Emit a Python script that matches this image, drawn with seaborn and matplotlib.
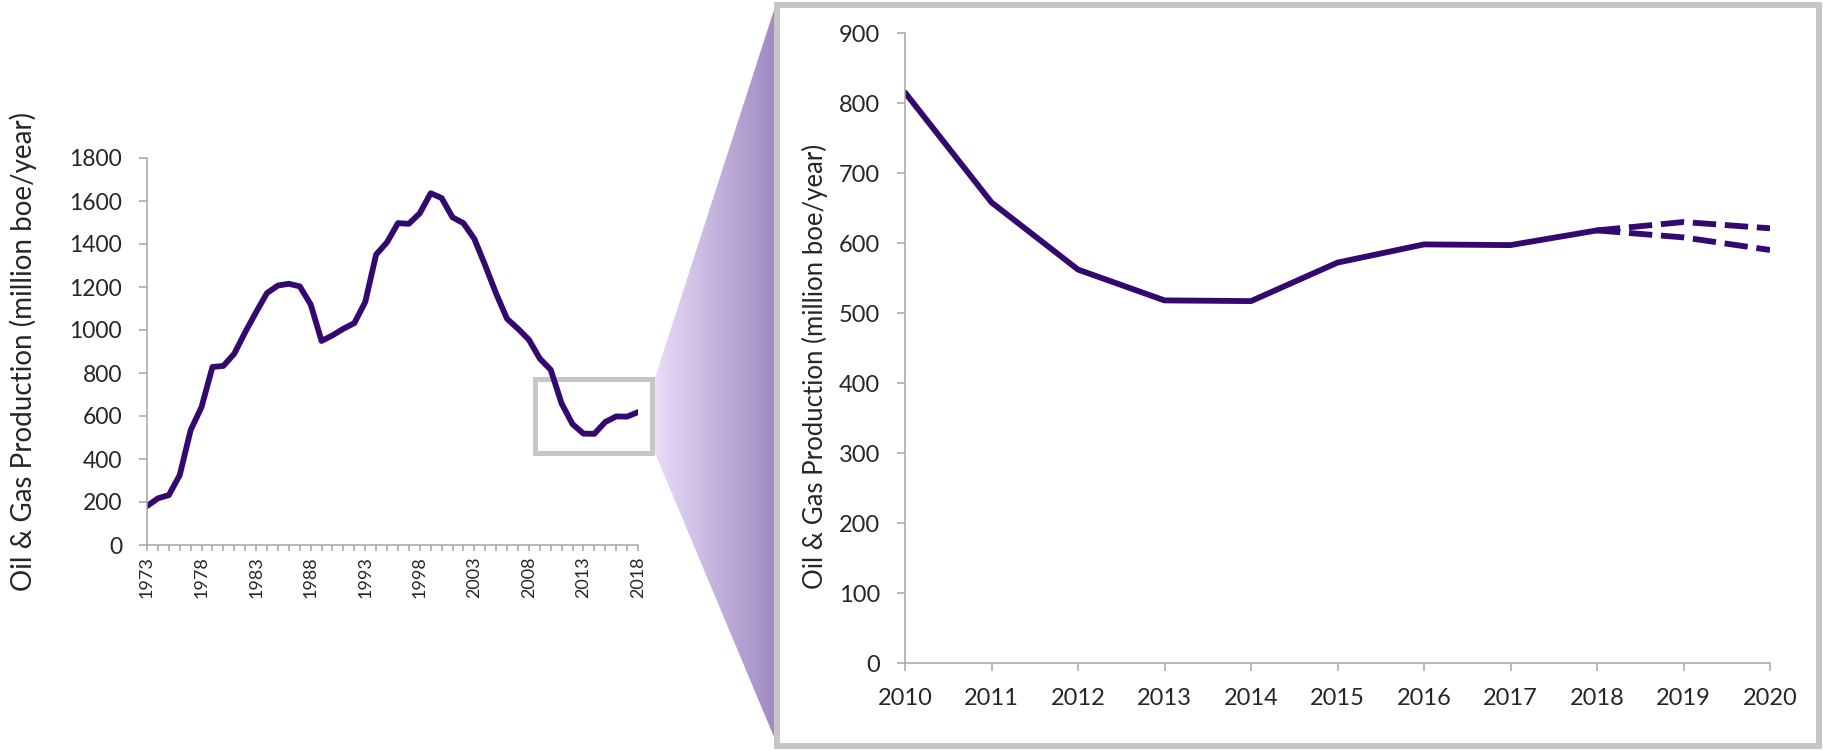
import matplotlib.pyplot as plt
import numpy as np
import seaborn as sns
from matplotlib.patches import Rectangle, Polygon
from matplotlib.ticker import MultipleLocator
from matplotlib.colors import LinearSegmentedColormap

# data
years = np.arange(1973, 2019)
production = [181, 217, 232, 325, 534, 642, 828, 833, 890, 990,
              1083, 1172, 1207, 1215, 1203, 1119, 949, 975, 1006, 1032,
              1130, 1351, 1408, 1497, 1494, 1543, 1636, 1614, 1524, 1497,
              1424, 1300, 1169, 1052, 1006, 955, 867, 815, 658, 562,
              518, 517, 572, 598, 597, 618]

zoom_years = years[-9:]
zoom_values = production[-9:]

proj_years = [2018, 2019, 2020]
proj_high = [618, 630, 621]
proj_low = [618, 608, 590]

ylabel = "Oil & Gas Production (million boe/year)"

LINE = "#33086f"
SPINE = "#a6a6a6"
BOX = "#c6c6c6"

sns.set_style("white")
plt.rcParams["font.family"] = ["Lato", "DejaVu Sans"]

W, H = 1825, 751
fig = plt.figure(figsize=(W / 100, H / 100), dpi=100)

# overlay in pixel coordinates for the boxes and the zoom wedge
ov = fig.add_axes([0, 0, 1, 1], zorder=0)
ov.set_xlim(0, W)
ov.set_ylim(H, 0)
ov.axis("off")

wedge = Polygon([(655, 378), (655, 453), (774, 737), (774, 10)], closed=True,
                facecolor="none", edgecolor="none")
ov.add_patch(wedge)
cmap = LinearSegmentedColormap.from_list("wedge", ["#e9ddf8", "#a08ac3"])
grad = np.linspace(0, 1, 256).reshape(1, -1)
im = ov.imshow(grad, cmap=cmap, extent=(655, 774, 737, 10), aspect="auto")
im.set_clip_path(wedge)
ov.set_xlim(0, W)
ov.set_ylim(H, 0)

ov.add_patch(Rectangle((535.5, 378.5), 117, 74, fill=False, edgecolor=BOX, lw=3.6))
ov.add_patch(Rectangle((777, 5), 1042, 741, fill=False, edgecolor=BOX, lw=4.3))


def style_axes(ax):
    ax.set_facecolor("none")
    for s in ["top", "right"]:
        ax.spines[s].set_visible(False)
    for s in ["left", "bottom"]:
        ax.spines[s].set_color(SPINE)
        ax.spines[s].set_linewidth(1.1)


# left: full history
ax1 = fig.add_axes([147 / W, 1 - 545 / H, (638 - 147) / W, (545 - 158) / H], zorder=2)
sns.lineplot(x=years, y=production, ax=ax1, color=LINE, lw=4.2)
ax1.set_xlim(1973, 2018)
ax1.set_ylim(0, 1800)
ax1.yaxis.set_major_locator(MultipleLocator(200))
ax1.set_xticks(np.arange(1973, 2019, 5))
ax1.xaxis.set_minor_locator(MultipleLocator(1))
style_axes(ax1)
ax1.tick_params(axis="y", direction="out", length=6, width=1.1, color=SPINE,
                labelsize=16.5, pad=12, left=True)
ax1.tick_params(axis="x", which="both", direction="out", length=4, width=1.1,
                color=SPINE, labelsize=13, pad=4, bottom=True)
ax1.tick_params(axis="x", labelrotation=90)
ax1.set_xlabel("")
ax1.set_ylabel(ylabel, fontsize=20)
ax1.yaxis.set_label_coords(-(147 - 37) / (638 - 147), 0.5)

# right: zoom 2010-2020
ax2 = fig.add_axes([905 / W, 1 - 663 / H, (1770 - 905) / W, (663 - 33) / H], zorder=2)
sns.lineplot(x=zoom_years, y=zoom_values, ax=ax2, color=LINE, lw=4.2)
sns.lineplot(x=proj_years, y=proj_high, ax=ax2, color=LINE, lw=4.2,
             linestyle=(0, (4, 1.5)))
sns.lineplot(x=proj_years, y=proj_low, ax=ax2, color=LINE, lw=4.2,
             linestyle=(0, (4, 1.5)))
ax2.set_xlim(2010, 2020)
ax2.set_ylim(0, 900)
ax2.set_xticks(np.arange(2010, 2021))
ax2.yaxis.set_major_locator(MultipleLocator(100))
style_axes(ax2)
ax2.tick_params(axis="both", direction="out", length=6, width=1.1, color=SPINE,
                labelsize=17, pad=12, left=True, bottom=True)
ax2.set_xlabel("")
ax2.set_ylabel(ylabel, fontsize=18.5)
ax2.yaxis.set_label_coords(-(905 - 828) / (1770 - 905), 0.47)

fig.savefig("out.png", dpi=100)
